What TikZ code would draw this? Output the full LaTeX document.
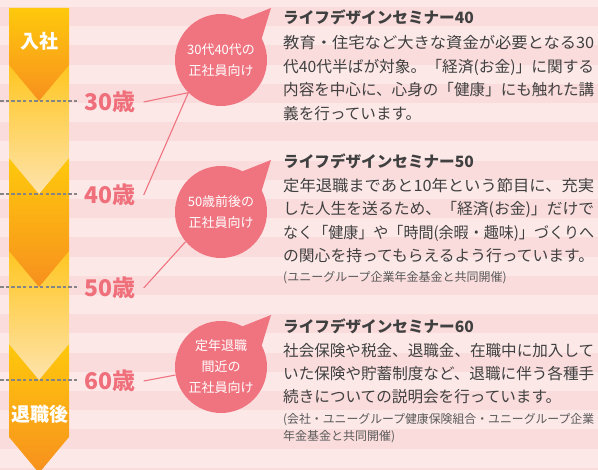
\documentclass[tikz,border=0pt]{standalone}
\usepackage{fontspec}
\setmainfont{Noto Sans CJK JP}
\usepackage{graphicx}
\usetikzlibrary{calc}
\definecolor{bgL}{HTML}{FDE8E8}
\definecolor{bgD}{HTML}{FADCDC}
\definecolor{orTop}{HTML}{FFC90C}
\definecolor{orBot}{HTML}{F7901E}
\definecolor{paTop}{HTML}{FFC620}
\definecolor{paMid}{HTML}{FDD670}
\definecolor{paBot}{HTML}{FEE3AC}
\definecolor{pinkC}{HTML}{F07480}
\definecolor{ageC}{HTML}{EF6F7B}
\definecolor{bodyC}{HTML}{404040}
\definecolor{noteC}{HTML}{5A5A5A}
\definecolor{dashC}{HTML}{858585}
\newcommand\fullline[1]{\resizebox{311pt}{\height}{#1}}
\begin{document}
\begin{tikzpicture}[x=1pt,y=-1pt,
  orseg/.style={top color=orTop,bottom color=orBot},
  paseg/.style={top color=paTop,middle color=paMid,bottom color=paBot},
  dashline/.style={draw=dashC,line width=1.1pt,dash pattern=on 3.5pt off 2.2pt},
  age/.style={text=ageC,font=\fontsize{23}{26}\selectfont\bfseries,inner sep=0pt},
  stage/.style={text=white,font=\fontsize{19}{22}\selectfont\bfseries,inner sep=0pt},
  bubble/.style={circle,fill=pinkC,minimum size=92pt,inner sep=0pt},
  bubtext/.style={inner sep=0pt,text=white,align=center,font=\fontsize{13}{21}\selectfont},
  link/.style={draw=pinkC,line width=1.1pt},
  ttl/.style={anchor=west,inner sep=0pt,text=bodyC,font=\fontsize{15.6}{18}\selectfont\bfseries},
  body/.style={anchor=west,inner sep=0pt,text=bodyC,font=\fontsize{15.6}{18}\selectfont},
  note/.style={anchor=west,inner sep=0pt,text=noteC,font=\fontsize{12}{14}\selectfont}]
\useasboundingbox (0,0) rectangle (598,470);
% background stripes
\fill[bgL] (0,0) rectangle (598,470);
\foreach \i in {0,...,12} \fill[bgD] (0,{7+38.4*\i}) rectangle (598,{26.2+38.4*\i});
% arrow column (drawn from bottom to top)
\shade[orseg] (9,343) -- (69,343) -- (69,437) -- (39,473) -- (9,437) -- cycle;
\shade[paseg] (9,250) -- (69,250) -- (69,344) -- (39,380) -- (9,344) -- cycle;
\shade[orseg] (9,158) -- (69,158) -- (69,251) -- (39,287) -- (9,251) -- cycle;
\shade[paseg] (9,65) -- (69,65) -- (69,158) -- (39,194) -- (9,158) -- cycle;
\shade[orseg] (9,8) -- (69,8) -- (69,65) -- (39,101) -- (9,65) -- cycle;
\node[stage] (s1) at (39,41) {入社};
\node[stage] (s2) at (40,414) {退職後};
% dashed age lines
\foreach \y in {101,194,287,380} \draw[dashline] (0,\y) -- (77,\y);
% age labels
\node[age] (a30) at (110,102) {30歳};
\node[age] (a40) at (110,195) {40歳};
\node[age] (a50) at (110,288) {50歳};
\node[age] (a60) at (110,381) {60歳};
% bubbles
\node[bubble] (c1) at (221,60) {};
\node[bubble] (c2) at (221,212) {};
\node[bubble] (c3) at (221,367) {};
\foreach \c in {c1,c2,c3}
  \fill[pinkC] (\c.28) -- ($(\c.center)+(50,-52)$) -- (\c.62) -- (\c.center) -- cycle;
\node[bubtext] (c1t) at (c1) {30代40代の\\正社員向け};
\node[bubtext] (c2t) at (c2) {50歳前後の\\正社員向け};
\node[bubtext] (c3t) at (c3) {定年退職\\間近の\\正社員向け};
% connectors
\draw[link] ([xshift=8pt]a30.east) -- (c1.225);
\draw[link] ([xshift=8pt]a40.east) -- (c1.225);
\draw[link] ([xshift=8pt]a50.east) -- (c2.220);
\draw[link] ([xshift=8pt]a60.east) -- (c3.190);
% block 1
\node[ttl] (t1) at (283,17) {ライフデザインセミナー40};
\node[body] (t1a) at (283,43) {\fullline{教育・住宅など大きな資金が必要となる30}};
\node[body] (t1b) at (283,67) {\fullline{代40代半ばが対象。「経済(お金)」に関する}};
\node[body] (t1c) at (283,90) {\fullline{内容を中心に、心身の「健康」にも触れた講}};
\node[body] (t1d) at (283,114) {義を行っています。};
% block 2
\node[ttl] (t2) at (283,161) {ライフデザインセミナー50};
\node[body] (t2a) at (283,186) {\fullline{定年退職まであと10年という節目に、充実}};
\node[body] (t2b) at (283,209) {\fullline{した人生を送るため、「経済(お金)」だけで}};
\node[body] (t2c) at (283,233) {\fullline{なく「健康」や「時間(余暇・趣味)」づくりへ}};
\node[body] (t2d) at (283,256) {\fullline{の関心を持ってもらえるよう行っています。}};
\node[note] (t2e) at (283,278) {(ユニーグループ企業年金基金と共同開催)};
% block 3
\node[ttl] (t3) at (283,326) {ライフデザインセミナー60};
\node[body] (t3a) at (283,351) {\fullline{社会保険や税金、退職金、在職中に加入して}};
\node[body] (t3b) at (283,374) {\fullline{いた保険や貯蓄制度など、退職に伴う各種手}};
\node[body] (t3c) at (283,397) {続きについての説明会を行っています。};
\node[note] (t3d) at (283,420) {\resizebox{311pt}{\height}{(会社・ユニーグループ健康保険組合・ユニーグループ企業}};
\node[note] (t3e) at (283,437) {年金基金と共同開催)};
\end{tikzpicture}
\end{document}
